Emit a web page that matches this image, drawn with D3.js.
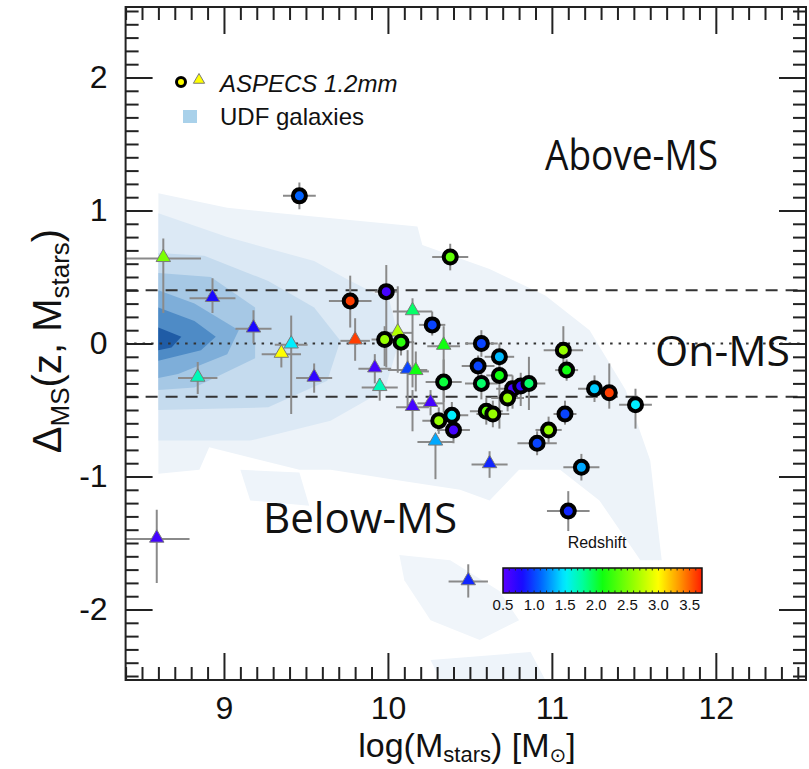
<!DOCTYPE html>
<html>
<head>
<meta charset="utf-8">
<script src="https://cdn.jsdelivr.net/npm/d3@7"></script>
<style>
body { margin: 0; background: #fff; }
text { font-family: "Liberation Sans", Arial, Helvetica, sans-serif; fill: #111; }
</style>
</head>
<body>
<div id="wrapper"></div>
<script>
// ASPECS 1.2mm detections (circles): log Mstars, Delta MS, redshift, errors
const circMass = [9.46, 10.38, 9.77, 9.99, 9.98, 10.08, 10.27, 10.34, 10.57, 10.68, 10.55, 10.68, 10.57, 10.76, 10.81, 10.86,
	10.73, 11.07, 11.09, 11.26, 11.35, 11.51, 10.60, 10.64, 11.08, 10.98, 10.91, 11.18, 11.10, 10.31, 10.39, 10.40];
const circDelta = [1.11, 0.65, 0.32, 0.39, 0.03, 0.01, 0.14, -0.29, 0.00, -0.10, -0.17, -0.24, -0.30, -0.34, -0.32, -0.30,
	-0.41, -0.05, -0.20, -0.34, -0.37, -0.46, -0.51, -0.53, -0.53, -0.65, -0.75, -0.93, -1.26, -0.58, -0.54, -0.65];
const circZ = [1.1, 2.4, 3.6, 0.6, 2.6, 2.2, 1.0, 2.0, 1.0, 1.35, 1.0, 2.1, 1.9, 0.6, 0.7, 1.9,
	2.6, 2.6, 2.1, 1.4, 3.6, 1.5, 2.4, 2.6, 1.0, 2.6, 1.0, 1.3, 0.9, 2.6, 1.5, 0.6];
const circMassErr = [0.10, 0.11, 0.13, 0.07, 0.08, 0.08, 0.08, 0.11, 0.10, 0.09, 0.10, 0.08, 0.10, 0.10, 0.10, 0.10,
	0.10, 0.12, 0.07, 0.10, 0.05, 0.10, 0.10, 0.10, 0.07, 0.08, 0.12, 0.11, 0.13, 0.10, 0.10, 0.10];
const circDeltaLo = [0.10, 0.10, 0.20, 0.57, 0.20, 0.10, 0.08, 0.23, 0.10, 0.12, 0.08, 0.40, 0.12, 0.15, 0.15, 0.20,
	0.10, 0.18, 0.08, 0.10, 0.12, 0.18, 0.10, 0.10, 0.08, 0.10, 0.09, 0.10, 0.15, 0.10, 0.10, 0.10];
const circDeltaHi = [0.10, 0.10, 0.19, 0.20, 0.10, 0.08, 0.10, 0.17, 0.10, 0.10, 0.08, 0.10, 0.10, 0.10, 0.10, 0.20,
	0.10, 0.18, 0.08, 0.10, 0.22, 0.12, 0.10, 0.10, 0.10, 0.10, 0.09, 0.10, 0.15, 0.10, 0.10, 0.10];

// triangles
const triMass = [8.63, 8.93, 9.18, 9.41, 9.35, 8.84, 9.55, 9.80, 10.06, 10.15, 10.34, 9.92, 9.95, 10.12, 10.17, 10.15,
	10.26, 10.29, 10.62, 8.59, 10.49];
const triDelta = [0.64, 0.34, 0.11, -0.01, -0.08, -0.26, -0.26, 0.02, 0.08, 0.24, -0.02, -0.19, -0.33, -0.20, -0.21, -0.48,
	-0.45, -0.74, -0.91, -1.47, -1.79];
const triZ = [2.5, 0.8, 0.8, 1.5, 3.0, 1.7, 0.7, 3.6, 2.7, 1.9, 2.1, 0.6, 1.7, 1.0, 2.1, 0.6,
	0.6, 1.3, 0.9, 0.6, 0.9];
const triMassErr = [0.23, 0.14, 0.11, 0.10, 0.12, 0.12, 0.11, 0.09, 0.09, 0.12, 0.10, 0.10, 0.11, 0.12, 0.08, 0.10,
	0.08, 0.11, 0.11, 0.20, 0.12];
const triDeltaLo = [0.41, 0.11, 0.11, 0.52, 0.10, 0.12, 0.11, 0.15, 0.30, 0.57, 0.42, 0.11, 0.10, 0.30, 0.15, 0.18,
	0.09, 0.28, 0.10, 0.33, 0.12];
const triDeltaHi = [0.15, 0.15, 0.14, 0.22, 0.06, 0.12, 0.11, 0.17, 0.35, 0.10, 0.15, 0.11, 0.07, 0.15, 0.15, 0.13,
	0.10, 0.05, 0.10, 0.22, 0.13];

// UDF galaxies density contours, outer to inner [logM, Delta]
const udfOuter = [[8.60, 1.13], [9.02, 1.02], [9.34, 0.98], [10.18, 0.88], [10.21, 0.74], [10.62, 0.56], [10.96, 0.36],
	[11.23, 0.10], [11.45, -0.35], [11.60, -0.88], [11.67, -1.63], [11.54, -1.63], [11.29, -1.18], [11.05, -0.95],
	[10.80, -0.95], [10.62, -1.18], [10.44, -1.10], [10.07, -1.03], [9.65, -0.95], [9.46, -0.95], [8.91, -0.78],
	[8.85, -0.95], [8.60, -0.98]];
const udfPatchA = [[10.07, -1.59], [10.38, -1.63], [10.68, -1.86], [10.80, -2.08], [10.56, -2.23], [10.26, -2.08], [10.10, -1.78]];
const udfPatchB = [[10.26, -2.38], [10.87, -2.32], [10.96, -2.53], [10.32, -2.53]];
const udfPatchC = [[9.10, -0.95], [9.46, -0.97], [9.52, -1.22], [9.16, -1.18]];
const udfLevel1 = [[8.60, 0.98], [9.02, 0.80], [9.55, 0.62], [9.74, 0.49], [10.01, 0.32], [10.07, 0.02], [9.98, -0.35],
	[9.65, -0.58], [9.16, -0.73], [8.60, -0.73]];
const udfLevel2 = [[8.60, 0.68], [8.88, 0.66], [9.27, 0.47], [9.55, 0.27], [9.71, 0.02], [9.63, -0.28], [9.27, -0.48], [8.60, -0.50]];
const udfLevel3 = [[8.60, 0.53], [8.92, 0.50], [9.19, 0.27], [9.19, -0.11], [8.82, -0.33], [8.60, -0.35]];
const udfLevel4 = [[8.60, 0.40], [8.82, 0.30], [9.09, 0.10], [9.02, -0.08], [8.72, -0.23], [8.60, -0.26]];
const udfLevel5 = [[8.60, 0.27], [8.82, 0.17], [8.95, 0.05], [8.86, -0.05], [8.60, -0.13]];
const udfLevel6 = [[8.60, 0.12], [8.74, 0.05], [8.68, -0.03], [8.60, -0.05]];

// colour bar
const zStops = [0.5, 0.8, 1.1, 1.5, 1.8, 2.1, 2.6, 3.0, 3.35, 3.7];
const zTicks = [0.5, 1.0, 1.5, 2.0, 2.5, 3.0, 3.5];
const xTicks = [9, 10, 11, 12];
const yTicks = [-2, -1, 0, 1, 2];
const msBand = [-0.4, 0.4];

function drawChart() {
	const width = 809;
	const height = 769;

	const svg = d3.select("#wrapper")
		.append("svg")
		.attr("width", width)
		.attr("height", height);

	const xScale = d3.scaleLinear().domain([8.4, 12.55]).range([125.6, 806]);
	const yScale = d3.scaleLinear().domain([-2.53, 2.53]).range([680, 7]);
	const [x0, x1] = xScale.range();
	const [y0, y1] = yScale.range(); // y0 = bottom

	const zColor = d3.scaleLinear()
		.domain(zStops)
		.range(["#5a00ff", "#1a08ff", "#0062ff", "#00eeff", "#00ff95", "#10ff10", "#95ff00", "#ffff00", "#ff9200", "#ff1c00"])
		.clamp(true);

	svg.append("clipPath").attr("id", "plotclip")
		.append("rect").attr("x", x0).attr("y", y1).attr("width", x1 - x0).attr("height", y0 - y1);

	const plot = svg.append("g").attr("clip-path", "url(#plotclip)");

	// contours
	const area = d3.line().x(d => xScale(d[0])).y(d => yScale(d[1])).curve(d3.curveLinearClosed);
	const contours = [udfOuter, udfPatchA, udfPatchB, udfPatchC, udfLevel1, udfLevel2, udfLevel3, udfLevel4, udfLevel5, udfLevel6];
	const contourFills = ["#edf3f9", "#f0f5fa", "#eef4fa", "#eef4fa", "#dce9f5", "#c5dbee", "#a6c8e5", "#7eaed9", "#4e8bc6", "#1f5ca6"];
	plot.selectAll("path.udf")
		.data(contours)
		.enter().append("path")
		.attr("class", "udf")
		.attr("d", area)
		.attr("fill", (d, i) => contourFills[i]);

	// main sequence lines
	plot.selectAll("line.band")
		.data(msBand)
		.enter().append("line")
		.attr("x1", x0).attr("x2", x1)
		.attr("y1", d => yScale(d)).attr("y2", d => yScale(d))
		.attr("stroke", "#333").attr("stroke-width", 2)
		.attr("stroke-dasharray", "12,8");
	plot.append("line")
		.attr("x1", x0).attr("x2", x1)
		.attr("y1", yScale(0)).attr("y2", yScale(0))
		.attr("stroke", "#333").attr("stroke-width", 2.2)
		.attr("stroke-dasharray", "2.5,6");

	const circles = circMass.map((m, i) => ({ m: m, d: circDelta[i], z: circZ[i], me: circMassErr[i], lo: circDeltaLo[i], hi: circDeltaHi[i] }));
	const triangles = triMass.map((m, i) => ({ m: m, d: triDelta[i], z: triZ[i], me: triMassErr[i], lo: triDeltaLo[i], hi: triDeltaHi[i] }));

	// error bars
	const errG = plot.append("g").attr("stroke", "#8a8a8a").attr("stroke-width", 2);
	const allPts = triangles.concat(circles);
	errG.selectAll("line.ex")
		.data(allPts)
		.enter().append("line")
		.attr("x1", d => xScale(d.m - d.me)).attr("x2", d => xScale(d.m + d.me))
		.attr("y1", d => yScale(d.d)).attr("y2", d => yScale(d.d));
	errG.selectAll("line.ey")
		.data(allPts)
		.enter().append("line")
		.attr("x1", d => xScale(d.m)).attr("x2", d => xScale(d.m))
		.attr("y1", d => yScale(d.d - d.lo)).attr("y2", d => yScale(d.d + d.hi));

	const tri = d3.symbol().type(d3.symbolTriangle).size(90);
	plot.selectAll("path.tri")
		.data(triangles)
		.enter().append("path")
		.attr("d", tri)
		.attr("transform", d => `translate(${xScale(d.m)},${yScale(d.d) - 1})`)
		.attr("fill", d => zColor(d.z))
		.attr("stroke", "#7a7a7a").attr("stroke-width", 1);

	plot.selectAll("circle.aspecs")
		.data(circles)
		.enter().append("circle")
		.attr("cx", d => xScale(d.m))
		.attr("cy", d => yScale(d.d))
		.attr("r", 6.5)
		.attr("fill", d => zColor(d.z))
		.attr("stroke", "#000").attr("stroke-width", 4);

	// frame + ticks on all sides
	const minorX = d3.range(84, 126).map(v => v / 10).filter(v => v % 1 !== 0);
	const minorY = d3.range(-25, 26).map(v => v / 10).filter(v => v % 1 !== 0);
	const axisStyle = g => {
		g.select(".domain").remove();
		g.selectAll("line").attr("stroke", "#222").attr("stroke-width", 2);
		g.selectAll("text").style("font-size", "32px").attr("fill", "#111");
	};
	svg.append("g").attr("transform", `translate(0,${y0})`)
		.call(d3.axisBottom(xScale).tickValues(minorX).tickSize(-13).tickFormat("")).call(axisStyle);
	svg.append("g").attr("transform", `translate(0,${y0})`)
		.call(d3.axisBottom(xScale).tickValues(xTicks).tickSize(-27).tickPadding(16).tickFormat(d3.format("d"))).call(axisStyle);
	svg.append("g").attr("transform", `translate(0,${y1})`)
		.call(d3.axisTop(xScale).tickValues(minorX).tickSize(-13).tickFormat("")).call(axisStyle);
	svg.append("g").attr("transform", `translate(0,${y1})`)
		.call(d3.axisTop(xScale).tickValues(xTicks).tickSize(-27).tickFormat("")).call(axisStyle);
	svg.append("g").attr("transform", `translate(${x0},0)`)
		.call(d3.axisLeft(yScale).tickValues(minorY).tickSize(-13).tickFormat("")).call(axisStyle);
	svg.append("g").attr("transform", `translate(${x0},0)`)
		.call(d3.axisLeft(yScale).tickValues(yTicks).tickSize(-27).tickPadding(18).tickFormat(d => String(d))).call(axisStyle);
	svg.append("g").attr("transform", `translate(${x1},0)`)
		.call(d3.axisRight(yScale).tickValues(minorY).tickSize(-13).tickFormat("")).call(axisStyle);
	svg.append("g").attr("transform", `translate(${x1},0)`)
		.call(d3.axisRight(yScale).tickValues(yTicks).tickSize(-27).tickFormat("")).call(axisStyle);
	svg.append("rect")
		.attr("x", x0).attr("y", y1).attr("width", x1 - x0).attr("height", y0 - y1)
		.attr("fill", "none").attr("stroke", "#222").attr("stroke-width", 2);

	// axis titles
	const xt = svg.append("text").attr("x", 467).attr("y", 757)
		.attr("text-anchor", "middle").style("font-size", "34px");
	xt.append("tspan").text("log(M");
	xt.append("tspan").text("stars").attr("dy", 5).style("font-size", "22px");
	xt.append("tspan").text(") [M").attr("dy", -5);
	xt.append("tspan").text("\u2299").attr("dy", 5).style("font-size", "20px").style("font-family", "DejaVu Sans");
	xt.append("tspan").text("]").attr("dy", -5);

	const yt = svg.append("text").attr("transform", "translate(61,341) rotate(-90)")
		.attr("text-anchor", "middle").style("font-size", "40px");
	yt.append("tspan").text("\u0394");
	yt.append("tspan").text("MS").attr("dy", 8).style("font-size", "26px");
	yt.append("tspan").text("(z, M").attr("dy", -8);
	yt.append("tspan").text("stars").attr("dy", 8).style("font-size", "26px");
	yt.append("tspan").text(")").attr("dy", -8);

	// legend
	svg.append("circle").attr("cx", 181).attr("cy", 82).attr("r", 4.5)
		.attr("fill", "#ffff00").attr("stroke", "#000").attr("stroke-width", 3);
	svg.append("path").attr("d", d3.symbol().type(d3.symbolTriangle).size(55))
		.attr("transform", "translate(199,80)")
		.attr("fill", "#ffff00").attr("stroke", "#7a7a7a").attr("stroke-width", 1);
	svg.append("text").attr("x", 220).attr("y", 92).text("ASPECS 1.2mm")
		.style("font-size", "24px").style("font-style", "italic");
	svg.append("rect").attr("x", 183).attr("y", 110).attr("width", 14).attr("height", 13).attr("fill", "#a9d1ea");
	svg.append("text").attr("x", 220).attr("y", 125).text("UDF galaxies")
		.style("font-size", "24px");

	// region labels
	const regionLabel = (t, x, y, len) => svg.append("text").attr("x", x).attr("y", y).text(t)
		.attr("textLength", len).attr("lengthAdjust", "spacingAndGlyphs")
		.style("font-family", "'Open Sans', 'Noto Sans', sans-serif").style("font-size", "42px").attr("fill", "#000");
	regionLabel("Above-MS", 545, 170, 173);
	regionLabel("On-MS", 655, 366, 135);
	regionLabel("Below-MS", 263, 533, 194);

	// colour bar
	const cbScale = d3.scaleLinear().domain([0.5, 3.7]).range([503, 702]);
	const grad = svg.append("defs").append("linearGradient").attr("id", "zgrad");
	d3.range(0, 1.0001, 0.02).forEach(t => {
		const z = 0.5 + t * 3.2;
		grad.append("stop").attr("offset", t).attr("stop-color", zColor(z));
	});
	svg.append("rect").attr("x", 503).attr("y", 568).attr("width", 199).attr("height", 25)
		.attr("fill", "url(#zgrad)").attr("stroke", "#111").attr("stroke-width", 1.5);
	const cbMinor = d3.range(6, 37).map(v => v / 10);
	svg.append("g").selectAll("line")
		.data(cbMinor)
		.enter().append("line")
		.attr("x1", d => cbScale(d)).attr("x2", d => cbScale(d))
		.attr("y1", 568).attr("y2", 570.5)
		.attr("stroke", "#222").attr("stroke-width", 1);
	svg.append("g").selectAll("line")
		.data(cbMinor)
		.enter().append("line")
		.attr("x1", d => cbScale(d)).attr("x2", d => cbScale(d))
		.attr("y1", 590.5).attr("y2", 593)
		.attr("stroke", "#222").attr("stroke-width", 1);
	svg.append("g").selectAll("text")
		.data(zTicks)
		.enter().append("text")
		.attr("x", d => cbScale(d)).attr("y", 610)
		.attr("text-anchor", "middle")
		.style("font-size", "15px")
		.text(d3.format(".1f"));
	svg.append("text").attr("x", 597).attr("y", 548).attr("text-anchor", "middle")
		.style("font-size", "16px").text("Redshift");
}
drawChart();
</script>
</body>
</html>
